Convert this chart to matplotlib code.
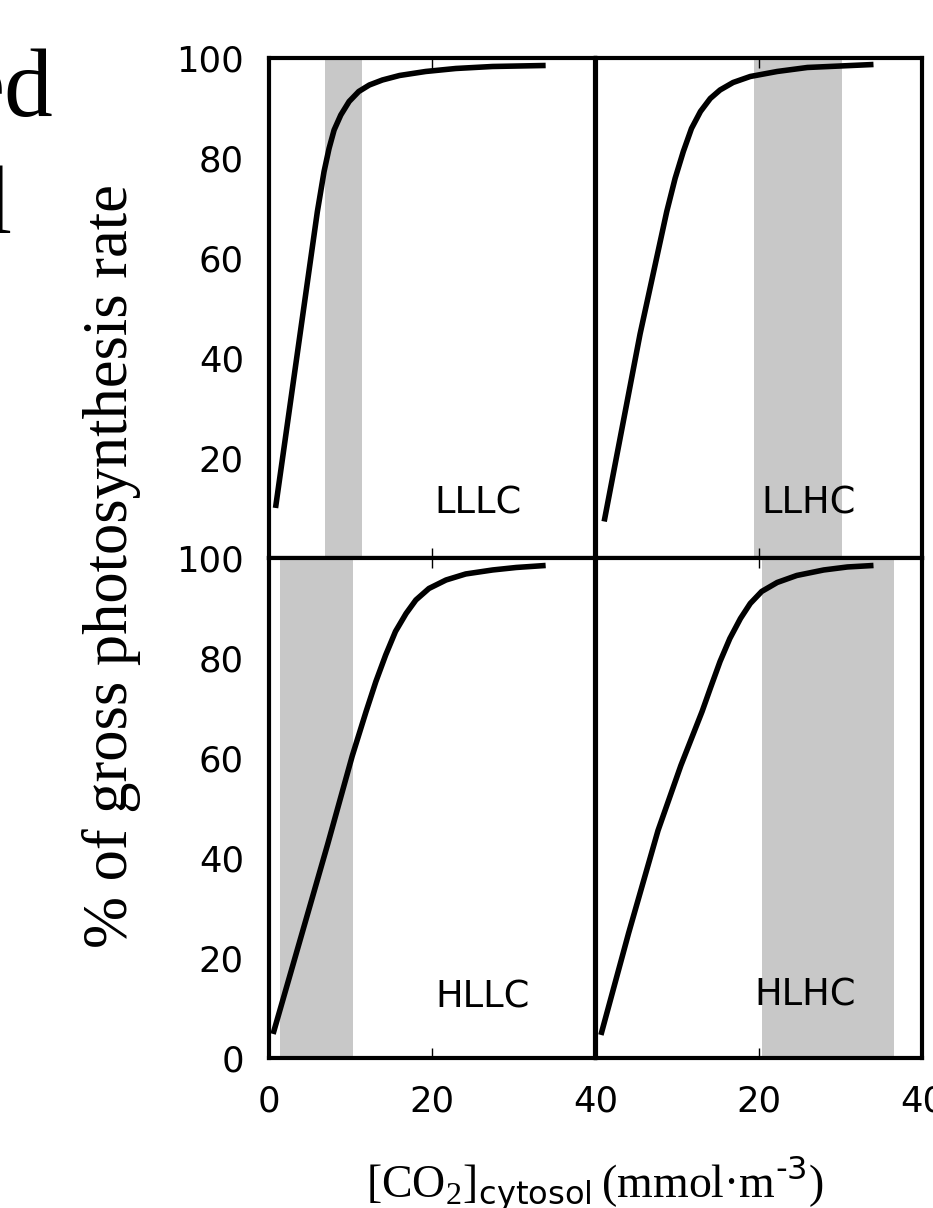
import matplotlib
matplotlib.use('Agg')
import matplotlib.pyplot as plt

# curva LLLC (painel superior esquerdo)
x_lllc = [0.8, 5.93, 6.75, 7.36, 7.98, 8.8, 9.82, 11.0, 12.3, 13.9, 16.0, 19.2, 22.9, 27.4, 33.9]
y_lllc = [10.0, 69.3, 77.3, 81.9, 85.6, 88.6, 91.3, 93.3, 94.6, 95.6, 96.5, 97.3, 97.9, 98.3, 98.5]

# curva LLHC (painel superior direito)
x_llhc = [1.0, 5.4, 8.67, 9.69, 10.7, 11.7, 12.8, 14.0, 15.2, 16.8, 18.9, 22.2, 25.9, 34.0]
y_llhc = [7.3, 44.8, 69.3, 75.9, 81.3, 85.9, 89.3, 91.9, 93.6, 95.1, 96.3, 97.3, 98.1, 98.7]

# curva HLLC (painel inferior esquerdo)
x_hllc = [0.5, 7.2, 10.2, 11.9, 13.1, 14.3, 15.5, 16.8, 18.0, 19.6, 21.7, 24.1, 27.4, 30.3, 33.9]
y_hllc = [4.8, 42.8, 60.4, 69.3, 75.3, 80.6, 85.3, 88.9, 91.6, 93.9, 95.6, 96.8, 97.6, 98.1, 98.5]

# curva HLHC (painel inferior direito)
x_hlhc = [0.6, 4.0, 7.6, 10.4, 13.0, 14.0, 15.2, 16.4, 17.7, 18.9, 20.3, 22.2, 24.6, 27.9, 30.8, 34.0]
y_hlhc = [4.6, 25.0, 45.5, 58.5, 69.3, 73.9, 79.3, 83.9, 87.9, 90.9, 93.3, 95.1, 96.5, 97.6, 98.2, 98.5]

# faixas cinzas (intervalo de CO2)
band_lllc = [6.9, 11.4]
band_llhc = [19.3, 30.1]
band_hllc = [1.35, 10.3]
band_hlhc = [20.3, 36.5]

labels = ['LLLC', 'LLHC', 'HLLC', 'HLHC']
y_ticks = [0, 20, 40, 60, 80, 100]

plt.rcParams['mathtext.fontset'] = 'custom'
plt.rcParams['mathtext.rm'] = 'Liberation Serif'
plt.rcParams['mathtext.sf'] = 'DejaVu Sans'

fig = plt.figure(figsize=(9.33, 12.08), dpi=100)

W = 0.3499
H = 0.4139
positions = [
    [0.2883, 0.5381, W, H],
    [0.6388, 0.5381, W, H],
    [0.2883, 0.1242, W, H],
    [0.6388, 0.1242, W, H],
]
curves = [(x_lllc, y_lllc), (x_llhc, y_llhc), (x_hllc, y_hllc), (x_hlhc, y_hlhc)]
bands = [band_lllc, band_llhc, band_hllc, band_hlhc]
text_pos = [(25.6, 11.0), (26.0, 11.0), (26.2, 12.1), (25.6, 12.6)]

for i in range(4):
    ax = fig.add_axes(positions[i])
    ax.axvspan(bands[i][0], bands[i][1], color='#c8c8c8', lw=0, zorder=0)
    ax.plot(curves[i][0], curves[i][1], color='black', linewidth=4,
            solid_capstyle='butt', solid_joinstyle='round', zorder=2)
    ax.text(text_pos[i][0], text_pos[i][1], labels[i], ha='center', va='center',
            fontsize=26.5, family='DejaVu Sans')
    ax.set_xlim(0, 40)
    ax.set_ylim(0, 100)
    for s in ax.spines.values():
        s.set_linewidth(3)
        s.set_zorder(5)

    # eixo x: marcas so no 20, pra dentro
    if i == 2:
        ax.set_xticks([0, 20, 40])
    elif i == 3:
        ax.set_xticks([20, 40])
    else:
        ax.set_xticks([20])
    ax.tick_params(axis='x', direction='in', length=7, width=1, top=True, bottom=True,
                   labelsize=25.5, pad=19)
    if i < 2:
        ax.tick_params(axis='x', labelbottom=False)

    # eixo y
    if i == 0:
        ax.set_yticks(y_ticks[1:])
    elif i == 2:
        ax.set_yticks(y_ticks)
    else:
        ax.set_yticks([])
    ax.tick_params(axis='y', length=0, labelsize=25.5, pad=18)

fig.text(0.120, 0.531, '% of gross photosynthesis rate', rotation=90,
         ha='center', va='center', family='Liberation Serif', fontsize=45)

fig.text(0.638, 0.009,
         r'$[\mathrm{CO}_{\mathrm{2}}]_{\mathsf{cytosol}}\,(\mathrm{mmol·m}^{\mathsf{‐3}})$',
         ha='center', va='baseline', fontsize=33)

# pedacos de texto cortados na margem esquerda
fig.text(0.0568, 0.904, 'ed', ha='right', va='baseline',
         family='Liberation Serif', fontsize=70)
fig.text(0.0129, 0.807, 'l', ha='right', va='baseline',
         family='Liberation Serif', fontsize=70)

plt.savefig('out.png', dpi=100)
plt.close()
